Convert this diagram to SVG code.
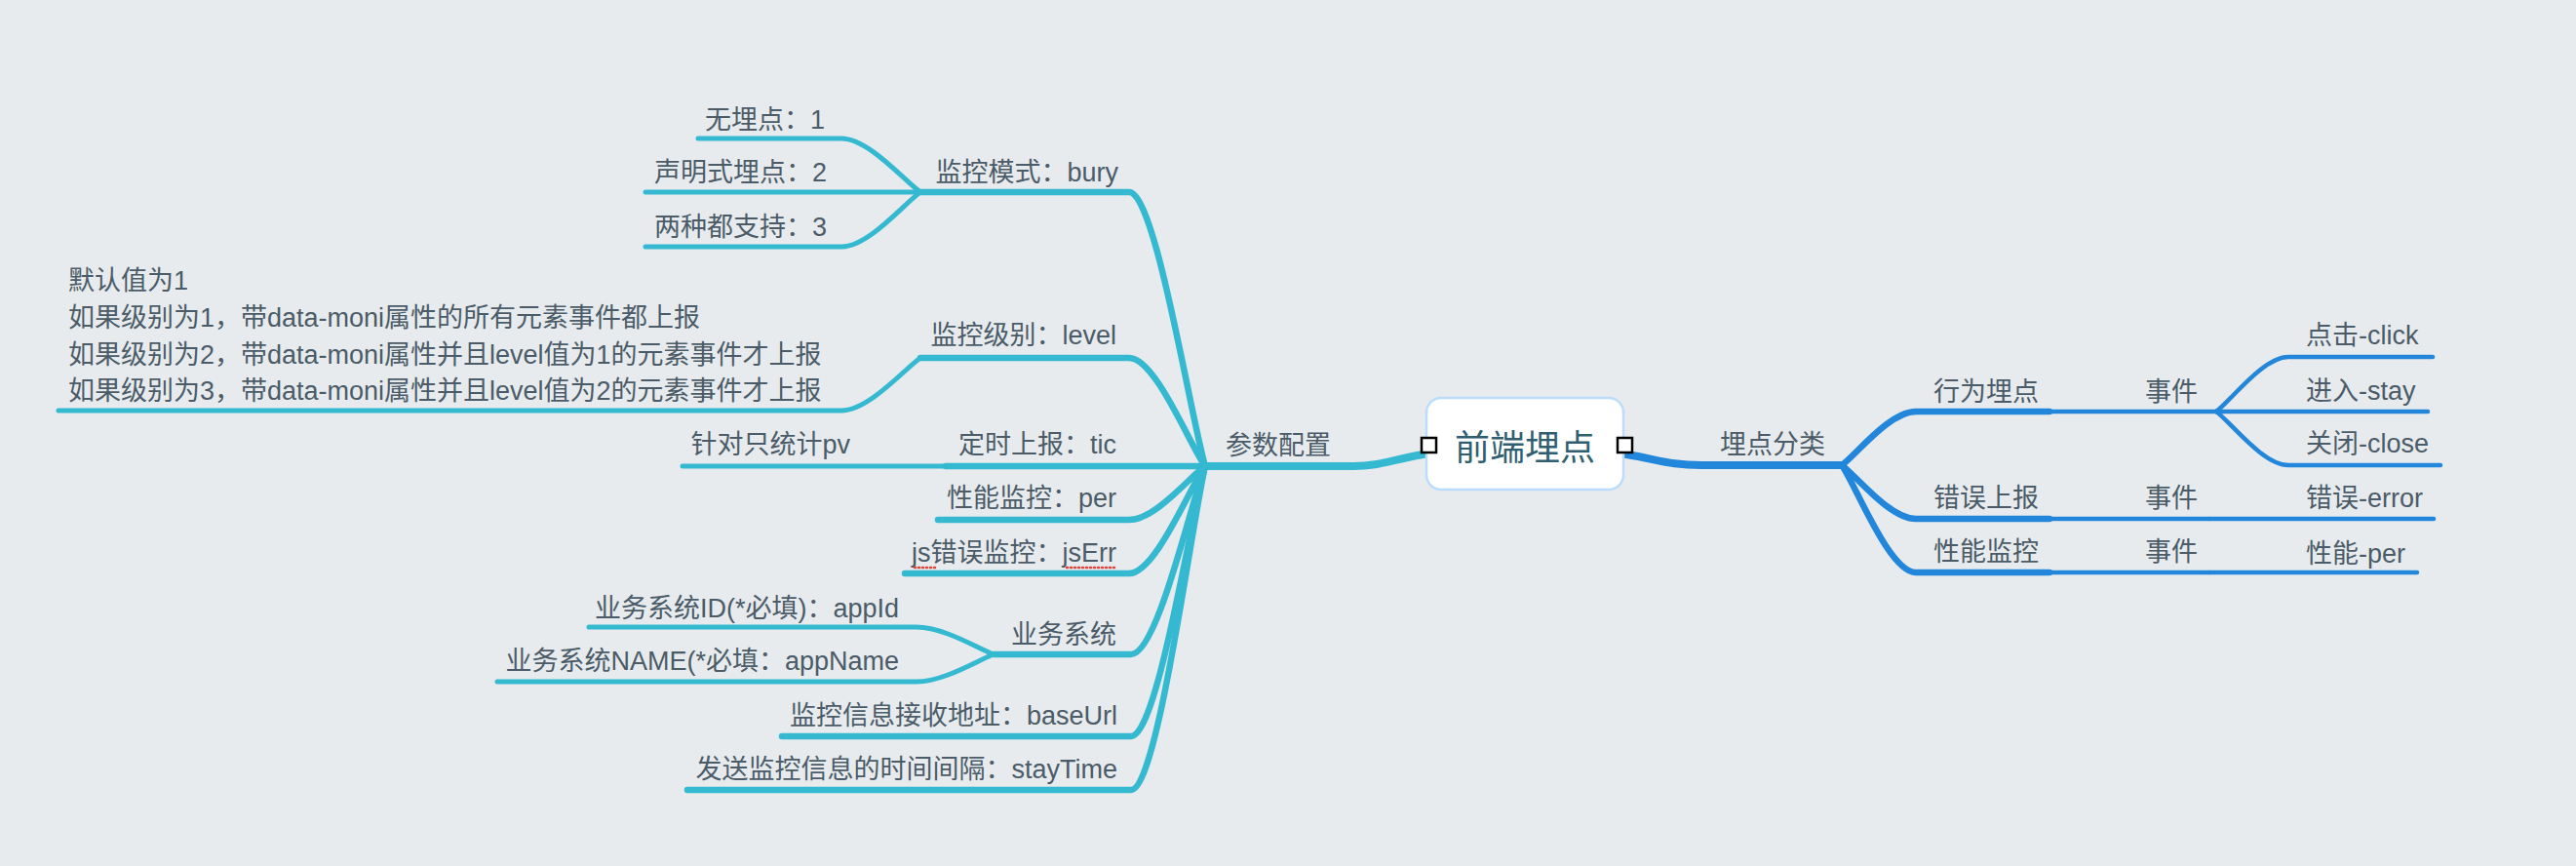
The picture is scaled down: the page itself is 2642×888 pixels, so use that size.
<svg xmlns="http://www.w3.org/2000/svg" width="2642" height="888" viewBox="0 0 2642 888">
<style>
text{font-family:"Liberation Sans","Noto Sans CJK SC",sans-serif;font-size:27px;fill:#4b5b67}
.e{text-anchor:end}
.c path{fill:none;stroke-linecap:round;stroke-linejoin:round}
.t path{stroke:#34b9d1}
.b path{stroke:#2286da}
.w8{stroke-width:8}
.w6{stroke-width:6.5}
.w5{stroke-width:5}
.w4{stroke-width:4.5}
.sq{fill:#fff;stroke:#000;stroke-width:2.5}
.sp{stroke:#e8433d;stroke-width:2.5;stroke-dasharray:1 3;stroke-linecap:round;fill:none}
</style>
<rect x="0" y="0" width="2642" height="888" fill="#e7ebee"/>
<g id="connectors" class="c">
<g class="t">
<path class="w8" d="M1460,466 C1428,471 1416,478 1388,478 L1236,478"/>
<path class="w6" d="M944,197 L1158,197 C1185,197 1220,422 1236,478"/>
<path class="w6" d="M944,367 L1158,367 C1185,367 1220,456 1236,478"/>
<path class="w6" d="M970,478 L1236,478"/>
<path class="w6" d="M962,533 L1158,533 C1185,533 1220,489 1236,478"/>
<path class="w6" d="M928,588 L1158,588 C1185,588 1220,500 1236,478"/>
<path class="w6" d="M1019,671 L1160,671 C1187,671 1221,517 1236,478"/>
<path class="w6" d="M802,755 L1160,755 C1187,755 1221,533 1236,478"/>
<path class="w6" d="M705,810 L1160,810 C1187,810 1221,544 1236,478"/>
<path class="w5" d="M716,142 L863,142 C891,142 928,186 944,197"/>
<path class="w5" d="M662,197 L944,197"/>
<path class="w5" d="M662,253 L863,253 C891,253 928,208 944,197"/>
<path class="w5" d="M60,421 L863,421 C891,421 928,378 944,367"/>
<path class="w5" d="M700,478 L970,478"/>
<path class="w5" d="M604,643 L940,643 C968,643 1003,665 1019,671"/>
<path class="w5" d="M510,699 L940,699 C968,699 1003,677 1019,671"/>
</g>
<g class="b">
<path class="w8" d="M1668,466 C1700,471 1712,477 1745,477 L1889,477"/>
<path class="w6" d="M1889,477 C1904,466 1938,422 1965,422 L2102,422"/>
<path class="w6" d="M1889,477 C1904,488 1938,532 1965,532 L2102,532"/>
<path class="w6" d="M1889,477 C1904,499 1938,587 1965,587 L2102,587"/>
<path class="w4" d="M2102,422 L2273,422"/>
<path class="w4" d="M2102,532 L2266,532"/>
<path class="w4" d="M2102,587 L2266,587"/>
<path class="w4" d="M2273,422 C2288,411 2321,366 2347,366 L2495,366"/>
<path class="w4" d="M2273,422 L2490,422"/>
<path class="w4" d="M2273,422 C2288,433 2321,477 2347,477 L2503,477"/>
<path class="w4" d="M2266,532 L2496,532"/>
<path class="w4" d="M2266,587 L2479,587"/>
</g>
</g>
<g id="root">
<rect x="1463" y="408" width="202" height="94" rx="15" fill="#fff" stroke="#bbdcfa" stroke-width="2.5"/>
<text x="1564" y="472" style="font-size:36px;fill:#2f5f70;text-anchor:middle">前端埋点</text>
<rect class="sq" x="1458" y="449" width="15" height="15"/>
<rect class="sq" x="1659" y="449" width="15" height="15"/>
</g>
<g id="n-config"><text x="1257" y="466">参数配置</text></g>
<g id="n-bury"><text class="e" x="1147" y="186">监控模式：bury</text></g>
<g id="n-bury-1"><text class="e" x="846" y="132">无埋点：1</text></g>
<g id="n-bury-2"><text class="e" x="848" y="186">声明式埋点：2</text></g>
<g id="n-bury-3"><text class="e" x="848" y="242">两种都支持：3</text></g>
<g id="n-level"><text class="e" x="1145" y="353">监控级别：level</text></g>
<g id="n-level-desc">
<text x="70" y="297">默认值为1</text>
<text x="70" y="335">如果级别为1，带data-moni属性的所有元素事件都上报</text>
<text x="70" y="373">如果级别为2，带data-moni属性并且level值为1的元素事件才上报</text>
<text x="70" y="410">如果级别为3，带data-moni属性并且level值为2的元素事件才上报</text>
</g>
<g id="n-tic"><text class="e" x="1145" y="465">定时上报：tic</text></g>
<g id="n-tic-1"><text class="e" x="872" y="465">针对只统计pv</text></g>
<g id="n-per"><text class="e" x="1145" y="520">性能监控：per</text></g>
<g id="n-jserr"><text class="e" x="1145" y="576">js错误监控：jsErr</text>
<path class="sp" d="M938,582 L960,582 M1094,582 L1146,582"/></g>
<g id="n-sys"><text class="e" x="1145" y="660">业务系统</text></g>
<g id="n-sys-1"><text class="e" x="922" y="633">业务系统ID(*必填)：appId</text></g>
<g id="n-sys-2"><text class="e" x="922" y="687">业务系统NAME(*必填：appName</text></g>
<g id="n-baseurl"><text class="e" x="1146" y="743">监控信息接收地址：baseUrl</text></g>
<g id="n-staytime"><text class="e" x="1146" y="798">发送监控信息的时间间隔：stayTime</text></g>
<g id="n-type"><text x="1764" y="465">埋点分类</text></g>
<g id="n-behavior"><text x="1983" y="411">行为埋点</text></g>
<g id="n-behavior-ev"><text x="2200" y="411">事件</text></g>
<g id="n-click"><text x="2365" y="353">点击-click</text></g>
<g id="n-stay"><text x="2365" y="410">进入-stay</text></g>
<g id="n-close"><text x="2365" y="464">关闭-close</text></g>
<g id="n-error"><text x="1983" y="520">错误上报</text></g>
<g id="n-error-ev"><text x="2200" y="520">事件</text></g>
<g id="n-error-1"><text x="2365" y="520">错误-error</text></g>
<g id="n-perf"><text x="1983" y="575">性能监控</text></g>
<g id="n-perf-ev"><text x="2200" y="575">事件</text></g>
<g id="n-perf-1"><text x="2365" y="577">性能-per</text></g>
</svg>
